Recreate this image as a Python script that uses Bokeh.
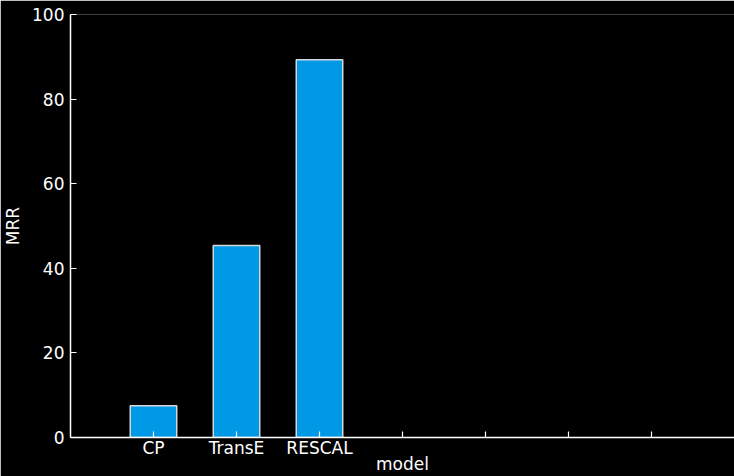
from bokeh.plotting import figure
from bokeh.models import ColumnDataSource, Range1d, FixedTicker
from bokeh.embed import file_html
from bokeh.resources import INLINE

# MRR by knowledge-graph embedding model
models = ["CP", "TransE", "RESCAL"]
mrr = [7.5, 45.4, 89.3]
# the category axis keeps room for seven slots; the last four are unused
slot_labels = ["CP", "TransE", "RESCAL", "", "", "", ""]
y_ticks = [0, 20, 40, 60, 80, 100]

positions = list(range(1, len(slot_labels) + 1))
src = ColumnDataSource(dict(x=positions[:len(models)], top=mrr, model=models))

p = figure(width=734, height=476, output_backend="svg", toolbar_location=None,
           x_range=Range1d(0, len(slot_labels) + 1), y_range=Range1d(0, 100))

p.background_fill_color = "black"
p.border_fill_color = "black"
p.outline_line_color = None
p.grid.visible = False

p.min_border_left = 70
p.min_border_right = 0
p.min_border_top = 14
p.min_border_bottom = 39

p.vbar(x="x", top="top", bottom=0, width=0.56, source=src,
       fill_color="#0099e6", line_color="#d8d8d8", line_width=1.5)

font = "DejaVu Sans"
for ax in (p.xaxis[0], p.yaxis[0]):
    ax.axis_line_color = "white"
    ax.axis_line_width = 1.5
    ax.major_tick_line_color = "white"
    ax.major_tick_line_width = 1.2
    ax.major_tick_in = 6
    ax.major_tick_out = 0
    ax.minor_tick_line_color = None
    ax.major_label_text_color = "white"
    ax.major_label_text_font = font
    ax.major_label_text_font_size = "17px"
    ax.axis_label_text_color = "white"
    ax.axis_label_text_font = font
    ax.axis_label_text_font_size = "17px"
    ax.axis_label_text_font_style = "normal"

p.xaxis.ticker = FixedTicker(ticks=positions)
p.xaxis.major_label_overrides = {pos: lab for pos, lab in zip(positions, slot_labels)}
p.xaxis.axis_label = "model"
p.xaxis.major_label_standoff = 0
p.xaxis.axis_label_standoff = -7

p.yaxis.ticker = FixedTicker(ticks=y_ticks)
p.yaxis.axis_label = "MRR"
p.yaxis.major_label_standoff = 6
p.yaxis.axis_label_standoff = 6

open("out.html", "w").write(file_html(p, INLINE))
